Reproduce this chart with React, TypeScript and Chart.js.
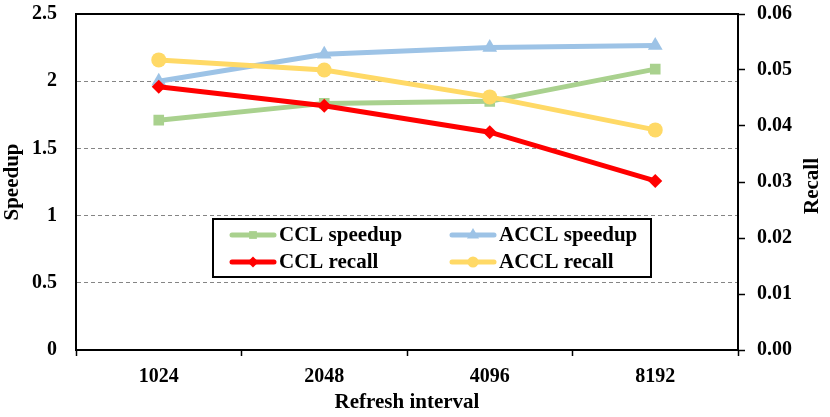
import React, { useEffect, useRef } from 'react';
import { Chart, registerables } from 'chart.js';
import { drawPoint } from 'chart.js/helpers';

Chart.register(...registerables);

const categories = ['1024', '2048', '4096', '8192'];
const cclSpeedup = [1.71, 1.835, 1.85, 2.09];
const acclSpeedup = [2.0, 2.2, 2.25, 2.265];
const cclRecall = [0.047, 0.0436, 0.0389, 0.0302];
const acclRecall = [0.0518, 0.05, 0.0452, 0.0393];

const seriesNames = ['CCL speedup', 'ACCL speedup', 'CCL recall', 'ACCL recall'];
const xTitle = 'Refresh interval';
const leftTitle = 'Speedup';
const rightTitle = 'Recall';

const FONT = "'Liberation Serif', 'Times New Roman', serif";
const GREEN = '#A9D18E';
const BLUE = '#9DC3E6';
const RED = '#FF0000';
const YELLOW = '#FFD966';

const framePlugin = {
  id: 'frameAndExtras',
  afterDraw(chart: any) {
    const { ctx, chartArea } = chart;
    // top frame line
    ctx.save();
    ctx.strokeStyle = '#000';
    ctx.lineWidth = 2;
    ctx.beginPath();
    ctx.moveTo(chartArea.left, chartArea.top);
    ctx.lineTo(chartArea.right, chartArea.top);
    ctx.stroke();
    ctx.restore();

    // right axis title, reading bottom to top
    ctx.save();
    ctx.translate(813, (chartArea.top + chartArea.bottom) / 2 + 4);
    ctx.rotate(-Math.PI / 2);
    ctx.fillStyle = '#000';
    ctx.font = `bold 21px ${FONT}`;
    ctx.textAlign = 'center';
    ctx.textBaseline = 'middle';
    ctx.fillText(rightTitle, 0, 0);
    ctx.restore();

    // boxed legend
    const bx = 213, by = 219, bw = 438, bh = 58;
    ctx.save();
    ctx.fillStyle = '#fff';
    ctx.fillRect(bx, by, bw, bh);
    ctx.strokeStyle = '#000';
    ctx.lineWidth = 2;
    ctx.strokeRect(bx, by, bw, bh);
    const spots = [
      [230, 235], [450, 235], [230, 262], [450, 262],
    ];
    const legendRadius = [5.5, 7, 5.5, 5.5];
    chart.data.datasets.forEach((ds: any, i: number) => {
      const [x, y] = spots[i];
      ctx.strokeStyle = ds.borderColor;
      ctx.fillStyle = ds.pointBackgroundColor;
      ctx.lineWidth = 5;
      ctx.lineCap = 'round';
      ctx.beginPath();
      ctx.moveTo(x + 2, y);
      ctx.lineTo(x + 44, y);
      ctx.stroke();
      drawPoint(ctx, { pointStyle: ds.pointStyle, radius: legendRadius[i], rotation: 0, borderWidth: 0 }, x + 23, y);
      ctx.fillStyle = '#000';
      ctx.font = `bold 21px ${FONT}`;
      ctx.textAlign = 'left';
      ctx.textBaseline = 'middle';
      ctx.fillText(ds.label, x + 49, y + 1);
    });
    ctx.restore();
  },
};

export default function App() {
  const ref = useRef<HTMLCanvasElement | null>(null);

  useEffect(() => {
    if (!ref.current) return;
    const mk = (label: string, data: number[], color: string, style: string, radius: number, axis: string, order: number) => ({
      label,
      data,
      borderColor: color,
      backgroundColor: color,
      pointBackgroundColor: color,
      pointBorderColor: color,
      pointBorderWidth: 0,
      pointStyle: style,
      pointRadius: radius,
      pointHoverRadius: radius,
      borderWidth: 5,
      tension: 0,
      yAxisID: axis,
      order,
    });
    const vFit = (w: number) => (s: any) => {
      s.width = w;
      s.paddingTop = 0;
      s.paddingBottom = 0;
    };
    const chart = new Chart(ref.current, {
      type: 'line',
      data: {
        labels: categories,
        datasets: [
          mk(seriesNames[0], cclSpeedup, GREEN, 'rect', 7.5, 'y', 4),
          mk(seriesNames[1], acclSpeedup, BLUE, 'triangle', 8.5, 'y', 3),
          mk(seriesNames[2], cclRecall, RED, 'rectRot', 7, 'y1', 2),
          mk(seriesNames[3], acclRecall, YELLOW, 'circle', 7.5, 'y1', 1),
        ] as any,
      },
      options: {
        animation: false,
        responsive: false,
        devicePixelRatio: 1,
        layout: { padding: { top: 14, left: 0, right: 0, bottom: 0 } },
        plugins: {
          legend: { display: false },
          tooltip: { enabled: false },
        },
        scales: {
          x: {
            type: 'category',
            offset: true,
            afterFit: (s: any) => { s.height = 67; s.paddingLeft = 0; s.paddingRight = 0; },
            grid: {
              offset: true,
              drawOnChartArea: false,
              drawTicks: true,
              tickLength: 6,
              tickColor: '#000',
              tickWidth: 1.5,
            },
            border: { display: true, color: '#000', width: 2 },
            ticks: {
              color: '#000',
              padding: 9,
              font: { family: FONT, size: 20, weight: 'bold' },
            },
            title: {
              display: true,
              text: xTitle,
              color: '#000',
              padding: { top: 0, bottom: 2 },
              font: { family: FONT, size: 21, weight: 'bold' },
            },
          },
          y: {
            position: 'left',
            min: 0,
            max: 2.5,
            afterFit: vFit(76),
            grid: {
              drawTicks: false,
              color: (c: any) => (c.tick && (c.tick.value === 0 || c.tick.value === 2.5) ? 'rgba(0,0,0,0)' : '#858585'),
              lineWidth: 1,
            },
            border: { display: true, color: '#000', width: 2, dash: [4, 3] },
            ticks: {
              stepSize: 0.5,
              color: '#000',
              padding: 19,
              font: { family: FONT, size: 20, weight: 'bold' },
              callback: (v: any) => String(Number(v)),
            },
            title: {
              display: true,
              text: leftTitle,
              color: '#000',
              padding: { top: 0, bottom: 0 },
              font: { family: FONT, size: 21, weight: 'bold' },
            },
          },
          y1: {
            position: 'right',
            min: 0,
            max: 0.06,
            afterFit: vFit(92),
            grid: {
              drawOnChartArea: false,
              drawTicks: true,
              tickLength: 7,
              tickColor: '#000',
              tickWidth: 1.5,
            },
            border: { display: true, color: '#000', width: 2 },
            ticks: {
              stepSize: 0.01,
              color: '#000',
              padding: 12,
              font: { family: FONT, size: 20, weight: 'bold' },
              callback: (v: any) => Number(v).toFixed(2),
            },
          },
        },
      } as any,
      plugins: [framePlugin],
    });
    return () => chart.destroy();
  }, []);

  return (
    <div style={{ position: 'absolute', left: 0, top: 0, width: 830, height: 417, background: '#fff' }}>
      <canvas ref={ref} width={830} height={417} style={{ width: 830, height: 417, display: 'block' }} />
    </div>
  );
}
